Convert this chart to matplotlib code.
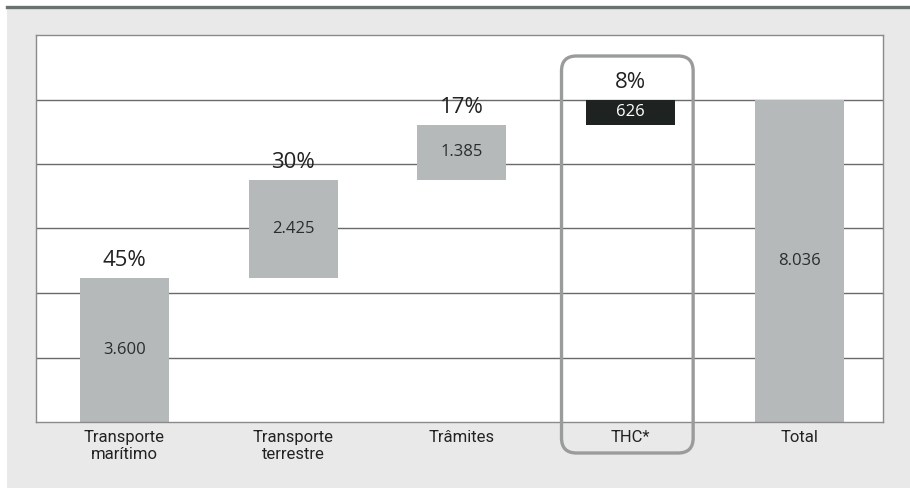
import numpy as np
import matplotlib.pyplot as plt
from matplotlib.patches import Rectangle, FancyBboxPatch
from matplotlib.lines import Line2D

# datos del gráfico (cascada de costes)
categorias = ['Transporte\nmarítimo', 'Transporte\nterrestre', 'Trâmites', 'THC*', 'Total']
valores = [3600, 2425, 1385, 626, 8036]
etiquetas_valor = ['3.600', '2.425', '1.385', '626', '8.036']
porcentajes = ['45%', '30%', '17%', '8%', '']

gris_barra = '#b6b9b9'
negro_barra = '#1e2322'
fondo = '#e9e9e9'

# base de cada barra: acumulado, la ultima (total) parte de cero
bases = [0] + list(np.cumsum(valores[:3]))
bases.append(0)
colores = [gris_barra, gris_barra, gris_barra, negro_barra, gris_barra]

fig = plt.figure(figsize=(9.1, 4.88), dpi=100, facecolor='white')
fig.patches.append(Rectangle((7 / 910, 0), 1, (488 - 6) / 488, transform=fig.transFigure,
                             facecolor=fondo, edgecolor='none', zorder=-2))
fig.lines.append(Line2D([7 / 910, 1], [(488 - 6.5) / 488] * 2, transform=fig.transFigure,
                        color='#6b716f', linewidth=2.4, zorder=-1))

ax = fig.add_axes([36 / 910, 66 / 488, 847 / 910, 387 / 488])
ax.set_facecolor('white')

x = np.arange(len(categorias))
paso = valores[-1] / 5
ax.set_ylim(0, paso * 6)
ax.set_xlim(-0.524, 4.495)
for g in range(1, 6):
    ax.axhline(g * paso, color='#6a6a6a', linewidth=1, zorder=1)

ax.bar(x, valores, bottom=bases, width=0.527, color=colores, zorder=2)

fuente_num = ['Open Sans', 'DejaVu Sans']
for i in range(len(x)):
    centro = bases[i] + valores[i] / 2
    ax.text(x[i], centro, etiquetas_valor[i], ha='center', va='center', fontsize=12,
            color='white' if colores[i] == negro_barra else '#2a2d2d', family=fuente_num, zorder=3)
    if porcentajes[i]:
        ax.annotate(porcentajes[i], (x[i], bases[i] + valores[i]), xytext=(0, 5),
                    textcoords='offset points', ha='center', va='bottom', fontsize=16,
                    color='#222222', family=fuente_num, zorder=3)

for s in ax.spines.values():
    s.set_color('#8a8a8a')
    s.set_linewidth(1)
ax.set_yticks([])
ax.set_xticks(x)
ax.set_xticklabels(categorias, fontsize=12, color='#222222', linespacing=1.1,
                   family=['Roboto', 'DejaVu Sans'])
ax.tick_params(axis='x', length=0, pad=6)

# recuadro redondeado que resalta THC
fig.canvas.draw()
x0 = ax.transData.transform((x[3] - 0.41, 0))[0] / fig.dpi
x1 = ax.transData.transform((x[3] + 0.37, 0))[0] / fig.dpi
caja = FancyBboxPatch((x0, 0.35), x1 - x0, 4.32 - 0.35,
                      boxstyle='round,pad=0,rounding_size=0.15',
                      transform=fig.dpi_scale_trans, facecolor='none',
                      edgecolor='#9a9c9c', linewidth=2.4, zorder=5)
fig.patches.append(caja)

fig.savefig('out.png', dpi=100, facecolor=fig.get_facecolor())
